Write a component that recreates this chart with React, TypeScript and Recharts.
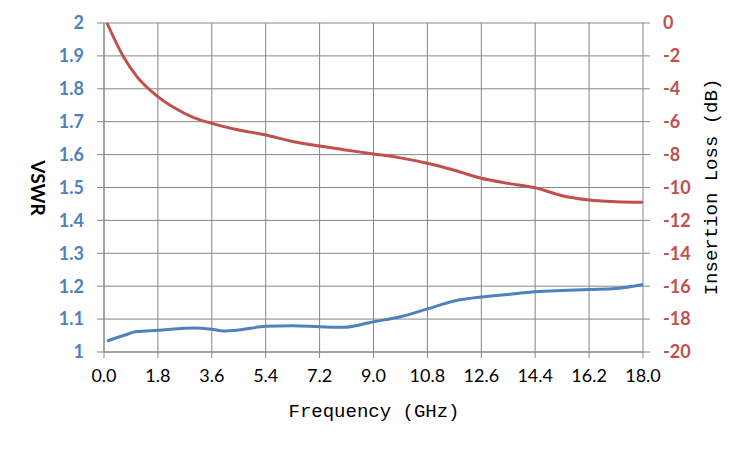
import React from 'react';
import { LineChart, Line, XAxis, YAxis, CartesianGrid, Label } from 'recharts';

const frequency = [0.1, 0.65, 1.1, 1.8, 2.7, 3.0, 3.6, 4.0, 4.5, 5.4, 6.3, 7.2, 8.0, 9.0, 9.9, 10.8, 11.7, 12.6, 13.5, 14.4, 15.3, 16.2, 17.1, 18.0];
const vswr = [1.033, 1.05, 1.062, 1.066, 1.072, 1.073, 1.069, 1.064, 1.067, 1.078, 1.08, 1.077, 1.075, 1.092, 1.107, 1.131, 1.155, 1.167, 1.175, 1.183, 1.187, 1.19, 1.193, 1.205];
const insertionLoss = [0, -2.05, -3.26, -4.48, -5.5, -5.75, -6.1, -6.3, -6.5, -6.81, -7.2, -7.48, -7.7, -7.96, -8.2, -8.53, -8.95, -9.44, -9.75, -10.02, -10.5, -10.76, -10.86, -10.9];

const xTicks = [0, 1.8, 3.6, 5.4, 7.2, 9.0, 10.8, 12.6, 14.4, 16.2, 18.0];
const vswrTicks = [1, 1.1, 1.2, 1.3, 1.4, 1.5, 1.6, 1.7, 1.8, 1.9, 2];
const lossTicks = [-20, -18, -16, -14, -12, -10, -8, -6, -4, -2, 0];

const data = frequency.map((f, i) => ({ f, vswr: vswr[i], loss: insertionLoss[i] }));

const BLUE = '#4F81BD';
const RED = '#C0504D';
const GRID = '#868686';
const SANS = 'Lato, "Open Sans", sans-serif';
const MONO = '"Liberation Mono", "DejaVu Sans Mono", monospace';

export default function App() {
  return (
    <div style={{ position: 'absolute', left: 0, top: 0, width: 750, height: 450, background: '#fff' }}>
      <LineChart width={750} height={450} data={data} margin={{ top: 23, right: 0, bottom: 0, left: 0 }}>
        <CartesianGrid yAxisId="left" stroke={GRID} strokeWidth={1} />
        <XAxis
          dataKey="f"
          type="number"
          domain={[0, 18]}
          ticks={xTicks}
          tickFormatter={(v: number) => v.toFixed(1)}
          height={98}
          stroke={GRID}
          tickSize={6}
          tickMargin={11}
          tick={{ fill: '#000', fontFamily: SANS, fontSize: 18 }}
          interval={0}
        >
          <Label
            content={() => (
              <text x={374} y={417} textAnchor="middle" fontFamily={MONO} fontSize={19} fill="#000">
                Frequency (GHz)
              </text>
            )}
          />
        </XAxis>
        <YAxis
          yAxisId="left"
          orientation="left"
          domain={[1, 2]}
          ticks={vswrTicks}
          tickFormatter={(v: number) => String(Number(v.toFixed(1)))}
          width={104}
          stroke={GRID}
          tickSize={7}
          tickMargin={13}
          tick={{ fill: BLUE, fontFamily: SANS, fontSize: 18, fontWeight: 700 }}
          interval={0}
        >
          <Label
            content={() => (
              <text
                x={38}
                y={188}
                textAnchor="middle"
                dominantBaseline="central"
                transform="rotate(90 38 188)"
                fontFamily={SANS}
                fontSize={19}
                fontWeight={700}
                fill="#000"
              >
                VSWR
              </text>
            )}
          />
        </YAxis>
        <YAxis
          yAxisId="right"
          orientation="right"
          domain={[-20, 0]}
          ticks={lossTicks}
          width={107}
          stroke={GRID}
          axisLine={false}
          tickSize={7}
          tickMargin={13}
          tick={{ fill: RED, fontFamily: SANS, fontSize: 18, fontWeight: 700 }}
          interval={0}
        >
          <Label
            content={() => (
              <text
                x={712}
                y={187}
                textAnchor="middle"
                dominantBaseline="central"
                transform="rotate(-90 712 187)"
                fontFamily={MONO}
                fontSize={19}
                fill="#000"
              >
                Insertion Loss (dB)
              </text>
            )}
          />
        </YAxis>
        <Line
          yAxisId="right"
          type="monotone"
          dataKey="loss"
          stroke={RED}
          strokeWidth={3}
          dot={false}
          isAnimationActive={false}
        />
        <Line
          yAxisId="left"
          type="monotone"
          dataKey="vswr"
          stroke={BLUE}
          strokeWidth={3}
          dot={false}
          isAnimationActive={false}
        />
      </LineChart>
    </div>
  );
}
